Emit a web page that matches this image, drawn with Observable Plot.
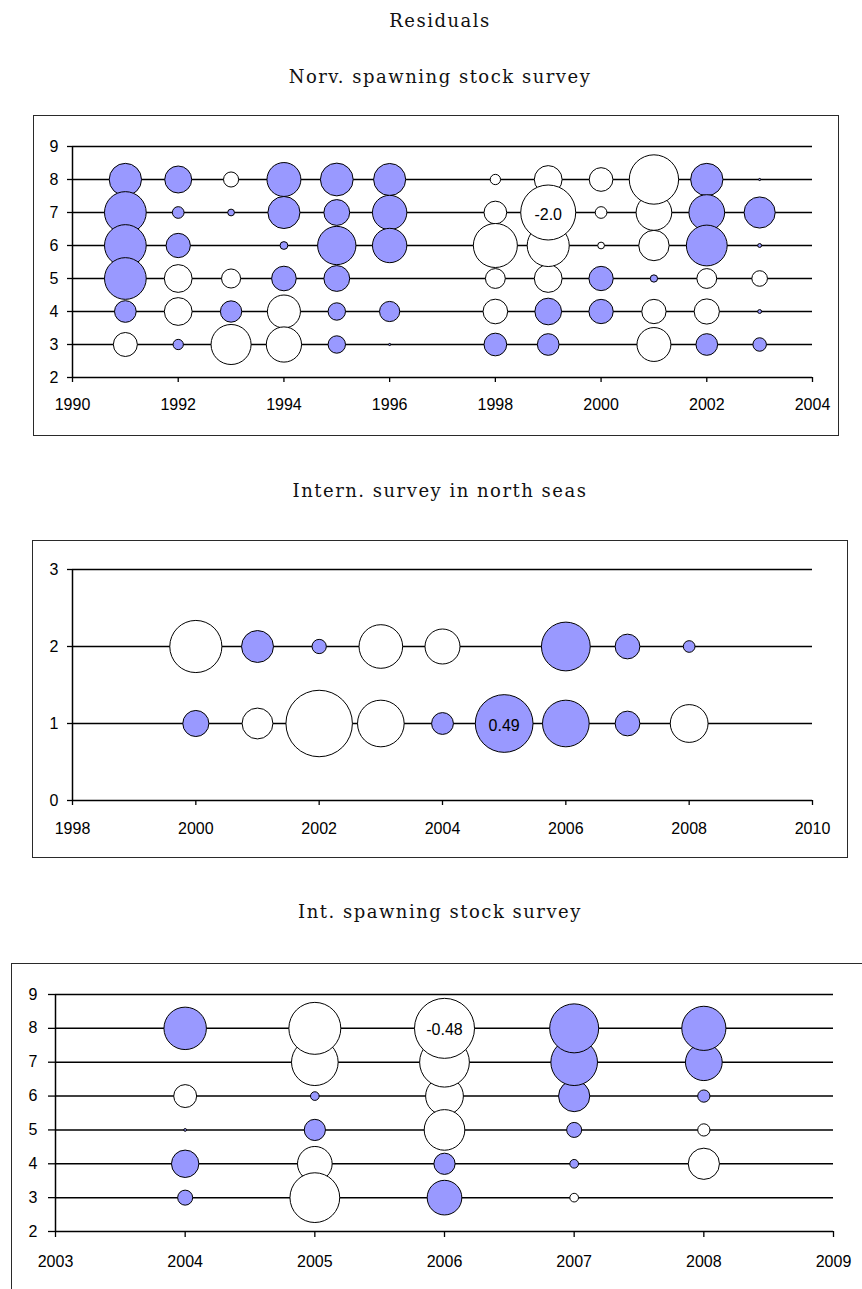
<!DOCTYPE html>
<html><head><meta charset="utf-8">
<script src="https://cdn.jsdelivr.net/npm/d3@7"></script>
<script src="https://cdn.jsdelivr.net/npm/@observablehq/plot@0.6"></script>
<style>
html,body{margin:0;padding:0;background:#fff;overflow:hidden;width:862px;height:1289px;position:relative}
.t{position:absolute;left:0;width:880px;text-align:center;font-family:"DejaVu Serif",serif;font-size:18px;line-height:1;letter-spacing:1.5px;color:#111;white-space:nowrap}
.box{position:absolute;border:1.5px solid #2a2a2a;box-sizing:border-box}
.pl{position:absolute;left:0}
</style></head><body>
<div class="t" style="top:12px">Residuals</div>
<div class="t" style="top:68px" id="s1"></div>
<div class="t" style="top:482px" id="s2"></div>
<div class="t" style="top:903px" id="s3"></div>
<div class="box" style="left:33px;top:115px;width:806px;height:321px"></div>
<div class="box" style="left:32px;top:540px;width:816px;height:318px"></div>
<div class="box" style="left:11px;top:963px;width:900px;height:400px"></div>
<div class="pl" id="p1" style="top:100px"></div>
<div class="pl" id="p2" style="top:530px"></div>
<div class="pl" id="p3" style="top:950px"></div>
<script>
// ---- Panel 1: Norv. spawning stock survey ----
const norvTitle = "Norv. spawning stock survey";
const norvYears = [1991, 1992, 1993, 1994, 1995, 1996, 1998, 1999, 2000, 2001, 2002, 2003];
const norvAges = [8, 7, 6, 5, 4, 3];
// residuals per year, in the order of norvAges
const norvResiduals = [
  [0.69, 1.15, 1.15, 1.15, 0.31, -0.38],
  [0.48, 0.09, 0.39, -0.51, -0.51, 0.07],
  [-0.15, 0.03, null, -0.24, 0.30, -1.06],
  [0.76, 0.68, 0.04, 0.40, -0.72, -0.82],
  [0.71, 0.44, 0.97, 0.44, 0.20, 0.20],
  [0.68, 0.78, 0.78, null, 0.27, 0.003],
  [-0.07, -0.34, -1.28, -0.26, -0.40, 0.34],
  [-0.51, -2.0, -1.17, -0.51, 0.47, 0.31],
  [-0.37, -0.09, -0.03, 0.39, 0.39, null],
  [-1.61, -0.84, -0.61, 0.035, -0.39, -0.76],
  [0.69, 0.84, 1.10, -0.26, -0.42, 0.31],
  [0.003, 0.64, 0.01, -0.16, 0.01, 0.12]
];
const norvXTicks = [1990, 1992, 1994, 1996, 1998, 2000, 2002, 2004];
const norvYTicks = [2, 3, 4, 5, 6, 7, 8, 9];
const norvLabel = {year: 1999, age: 7, text: "-2.0"};
const norvMaxAbs = 2.0;

// ---- Panel 2: Intern. survey in north seas ----
const intTitle = "Intern. survey in north seas";
const intYears = [2000, 2001, 2002, 2003, 2004, 2005, 2006, 2007, 2008];
const intAges = [2, 1];
const intResiduals = [
  [-0.40, 0.10],
  [0.15, -0.14],
  [0.03, -0.65],
  [-0.28, -0.32],
  [-0.18, 0.07],
  [null, 0.49],
  [0.35, 0.32],
  [0.09, 0.09],
  [0.02, -0.21]
];
const intXTicks = [1998, 2000, 2002, 2004, 2006, 2008, 2010];
const intYTicks = [0, 1, 2, 3];
const intLabel = {year: 2005, age: 1, text: "0.49"};
const intRefAbs = 0.49;

// ---- Panel 3: Int. spawning stock survey ----
const ispTitle = "Int. spawning stock survey";
const ispYears = [2004, 2005, 2006, 2007, 2008];
const ispAges = [8, 7, 6, 5, 4, 3];
const ispResiduals = [
  [0.24, null, -0.07, 0.001, 0.10, 0.03],
  [-0.36, -0.29, 0.01, 0.06, -0.16, -0.33],
  [-0.48, -0.33, -0.19, -0.22, 0.06, 0.16],
  [0.32, 0.29, 0.13, 0.03, 0.01, -0.01],
  [0.26, 0.18, 0.02, -0.02, -0.13, null]
];
const ispXTicks = [2003, 2004, 2005, 2006, 2007, 2008, 2009];
const ispYTicks = [2, 3, 4, 5, 6, 7, 8, 9];
const ispLabel = {year: 2006, age: 8, text: "-0.48"};
const ispRefAbs = 0.48;

const POS = "#9999ff", NEG = "#ffffff";

function toRows(years, ages, values) {
  const rows = [];
  years.forEach((y, i) => ages.forEach((a, j) => {
    const v = values[i][j];
    if (v != null) rows.push({year: y, age: a, value: v});
  }));
  return rows.sort((p, q) => Math.abs(p.value) - Math.abs(q.value));
}

function panel(o) {
  const rows = toRows(o.years, o.ages, o.values);
  const x0 = o.xTicks[0], x1 = o.xTicks[o.xTicks.length - 1];
  const y0 = o.yTicks[0], y1 = o.yTicks[o.yTicks.length - 1];
  return Plot.plot({
    width: o.width, height: o.height,
    marginLeft: o.ml, marginRight: o.mr, marginTop: o.mt, marginBottom: o.mb,
    style: {fontFamily: "'Liberation Sans', Arial, sans-serif", fontSize: "16px", background: "transparent", overflow: "visible", color: "#000"},
    x: {domain: [x0, x1]},
    y: {domain: [y0, y1]},
    r: {type: "sqrt", domain: [0, o.refAbs], range: [0, o.refR], clamp: false},
    color: {type: "identity"},
    marks: [
      Plot.ruleY(o.yTicks, {x1: x0, x2: x1, stroke: "#000", strokeWidth: 1.5}),
      Plot.ruleX([x0], {y1: y0, y2: y1, stroke: "#000", strokeWidth: 1.5}),
      Plot.axisX({ticks: o.xTicks, tickSize: o.txs, tickPadding: o.txp, tickFormat: d => String(d), label: null, strokeWidth: 1.3}),
      Plot.axisY({ticks: o.yTicks, tickSize: o.tys, tickPadding: o.typ, tickFormat: d => String(d), label: null, strokeWidth: 1.3}),
      Plot.dot(rows, {x: "year", y: "age", r: d => Math.abs(d.value), fill: d => d.value > 0 ? POS : NEG, stroke: "#000", strokeWidth: 1, sort: null}),
      Plot.text([o.label], {x: "year", y: "age", text: "text", fontSize: 16, dy: 2, fill: "#000"})
    ]
  });
}

document.getElementById("s1").textContent = norvTitle;
document.getElementById("s2").textContent = intTitle;
document.getElementById("s3").textContent = ispTitle;

document.getElementById("p1").append(panel({
  years: norvYears, ages: norvAges, values: norvResiduals,
  xTicks: norvXTicks, yTicks: norvYTicks, label: norvLabel,
  refAbs: norvMaxAbs, refR: 27.5,
  width: 862, height: 340, ml: 72, mr: 50, mt: 46, mb: 63,
  txs: 5, txp: 16, tys: 5, typ: 9
}));
document.getElementById("p2").append(panel({
  years: intYears, ages: intAges, values: intResiduals,
  xTicks: intXTicks, yTicks: intYTicks, label: intLabel,
  refAbs: intRefAbs, refR: 28.85,
  width: 862, height: 340, ml: 72, mr: 50, mt: 39, mb: 70,
  txs: 5, txp: 17, tys: 5, typ: 9
}));
document.getElementById("p3").append(panel({
  years: ispYears, ages: ispAges, values: ispResiduals,
  xTicks: ispXTicks, yTicks: ispYTicks, label: ispLabel,
  refAbs: ispRefAbs, refR: 30,
  width: 862, height: 339, ml: 55, mr: 29, mt: 44, mb: 58,
  txs: 6, txp: 18, tys: 7, typ: 11
}));
</script>
</body></html>
